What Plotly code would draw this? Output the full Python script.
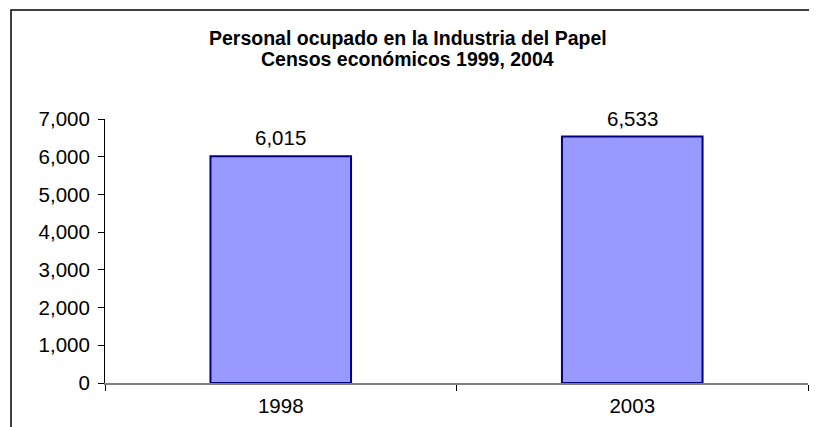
import plotly.graph_objects as go

YEARS = ['1998', '2003']
PERSONAL = [6015, 6533]
TITLE_LINES = ['Personal ocupado en la Industria del Papel',
               'Censos económicos 1999, 2004']

FONT = 'Liberation Sans, Arial, sans-serif'

# page has an 8px body margin, so the figure is laid out 8px up/left of the reference
fig = go.Figure(go.Bar(
    x=YEARS, y=PERSONAL,
    width=0.4,
    marker=dict(color='#9999FF', line=dict(color='#000080', width=2)),
))

fig.update_layout(
    width=817, height=427,
    margin=dict(l=97, r=17, t=111, b=52),
    paper_bgcolor='white', plot_bgcolor='white',
    font=dict(family=FONT, size=20.5, color='black'),
    showlegend=False,
)

# value labels above bars (x given as category index: year strings look numeric)
for i, v in enumerate(PERSONAL):
    fig.add_annotation(x=i, y=v, text=f'{v:,}', showarrow=False,
                       yanchor='bottom', yshift=5,
                       font=dict(size=20.5, family=FONT, color='black'))

for line, yp in zip(TITLE_LINES, [1.3068, 1.2273]):
    fig.add_annotation(text='<b>' + line + '</b>', xref='paper', yref='paper',
                       x=0.431, y=yp, xanchor='center', yanchor='middle',
                       showarrow=False, font=dict(size=19.5, family=FONT, color='black'))

fig.update_yaxes(range=[0, 7000], dtick=1000, tickformat=',', showgrid=False,
                 showline=True, linecolor='black', linewidth=1,
                 ticks='outside', ticklen=6, tickcolor='black', zeroline=False,
                 ticklabelstandoff=4)
fig.update_xaxes(type='category', range=[-0.5, 1.5], showline=True,
                 linecolor='#808080', linewidth=1.5,
                 ticks='outside', ticklen=6, tickcolor='black', tickson='boundaries',
                 ticklabelstandoff=4, showgrid=False)

# outer chart frame (cut at right and bottom edges like the original)
fig.add_shape(type='rect', xref='paper', yref='paper',
              x0=-0.1337, x1=1.05, y0=-0.3, y1=1.4129,
              line=dict(color='black', width=1.5), layer='below')

fig.write_html('out.html')
